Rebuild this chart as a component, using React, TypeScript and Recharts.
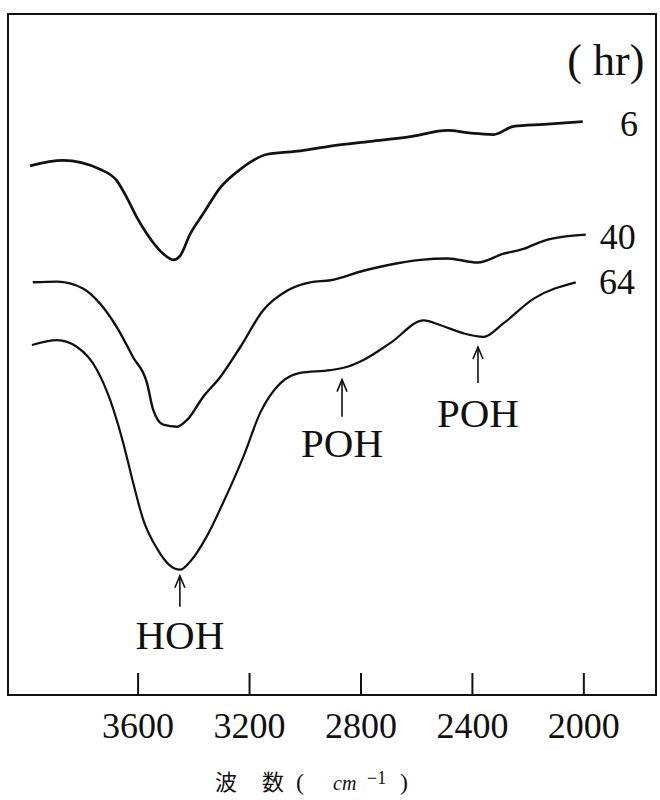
import React from 'react';
import { LineChart, Line, XAxis, YAxis, ReferenceArea, ReferenceDot } from 'recharts';

// wavenumber (cm-1) and relative transmittance
const WN_6 = [3988, 3870, 3737, 3676, 3640, 3604, 3568, 3510, 3474, 3449, 3413, 3366, 3305, 3233, 3136, 3018, 2910, 2766, 2622, 2489, 2406, 2324, 2252, 2144, 2004];
const T_6 = [77.7, 78.5, 77.2, 75.5, 73.0, 70.1, 67.7, 64.8, 63.9, 64.5, 67.7, 70.7, 74.5, 77.2, 79.4, 79.9, 80.6, 81.3, 82.0, 82.9, 82.5, 82.3, 83.5, 83.8, 84.2];

const WN_40 = [3978, 3891, 3798, 3737, 3676, 3618, 3568, 3546, 3510, 3460, 3424, 3366, 3305, 3233, 3151, 3064, 2982, 2910, 2791, 2669, 2586, 2489, 2381, 2288, 2216, 2144, 2072, 1993];
const T_40 = [60.6, 60.7, 59.7, 57.5, 54.0, 49.6, 45.8, 41.9, 39.7, 39.4, 40.4, 43.8, 46.7, 51.1, 56.5, 59.4, 60.6, 60.9, 62.3, 63.4, 63.9, 64.1, 63.5, 64.8, 65.5, 66.7, 67.3, 67.6];

const WN_64 = [3981, 3891, 3819, 3747, 3701, 3654, 3618, 3582, 3532, 3485, 3449, 3413, 3352, 3294, 3222, 3161, 3089, 3018, 2910, 2849, 2791, 2694, 2575, 2514, 2431, 2360, 2288, 2180, 2029];
const T_64 = [51.4, 52.1, 51.1, 47.7, 43.4, 37.1, 31.2, 25.8, 21.5, 19.0, 18.4, 19.6, 23.4, 28.3, 35.0, 41.5, 45.8, 47.3, 47.7, 48.2, 49.2, 51.7, 55.0, 54.3, 53.1, 52.6, 54.6, 58.2, 60.6];

const X_TICKS = [3600, 3200, 2800, 2400, 2000];
const X_DOMAIN = [1741, 4067];

const SERIES_LABELS = [
  { text: '6', wn: 1838, t: 83.9, size: 36 },
  { text: '40', wn: 1878, t: 67.3, size: 36 },
  { text: '64', wn: 1881, t: 60.6, size: 36 },
  { text: '( hr)', wn: 1921, t: 93.1, size: 44 },
];

const PEAKS = [
  { text: 'HOH', wn: 3450, t: 17.8, len: 33, gap: 75 },
  { text: 'POH', wn: 2868, t: 46.6, len: 39, gap: 79 },
  { text: 'POH', wn: 2380, t: 51.4, len: 38, gap: 82 },
];

const toPoints = (wn: number[], t: number[]) => wn.map((w, i) => ({ wn: w, t: t[i] }));

const FONT = '"Liberation Serif", "DejaVu Serif", serif';
const INK = '#111';

const AxisTick = ({ x, y, payload }: any) => (
  <g>
    <line x1={x} y1={y} x2={x} y2={y - 22} stroke={INK} strokeWidth={2} />
    <text x={x} y={y + 43} textAnchor="middle" fontFamily={FONT} fontSize={36} fill={INK}>
      {payload.value}
    </text>
  </g>
);

const AxisTitle = ({ viewBox }: any) => {
  const x0 = viewBox.x;
  const base = viewBox.y + 95;
  return (
    <text y={base} fill={INK} fontSize={22}>
      <tspan x={x0 + 207} fontFamily='"Noto Sans CJK JP"'>波</tspan>
      <tspan x={x0 + 254} fontFamily='"Noto Sans CJK JP"'>数</tspan>
      <tspan x={x0 + 288} fontFamily={FONT} fontSize={24}>(</tspan>
      <tspan x={x0 + 325} fontFamily={FONT} fontStyle="italic" fontSize={20}>cm</tspan>
      <tspan x={x0 + 359} dy={-6} fontFamily={FONT} fontSize={18}>−1</tspan>
      <tspan x={x0 + 392} dy={6} fontFamily={FONT} fontSize={24}>)</tspan>
    </text>
  );
};

const seriesText = (text: string, size: number) => (props: any) => (
  <text
    x={props.cx}
    y={props.cy}
    textAnchor="middle"
    dominantBaseline="central"
    fontFamily={FONT}
    fontSize={size}
    fill={INK}
  >
    {text}
  </text>
);

const peakMark = (text: string, len: number, gap: number) => (props: any) => {
  const { cx, cy } = props;
  return (
    <g>
      <line x1={cx} y1={cy + 2} x2={cx} y2={cy + len} stroke={INK} strokeWidth={1.6} />
      <path
        d={`M${cx - 5},${cy + 14} L${cx},${cy + 2} L${cx + 5},${cy + 14}`}
        fill="none"
        stroke={INK}
        strokeWidth={1.6}
      />
      <text x={cx} y={cy + gap} textAnchor="middle" fontFamily={FONT} fontSize={41} fill={INK}>
        {text}
      </text>
    </g>
  );
};

export default function App() {
  return (
    <div style={{ position: 'absolute', left: 0, top: 0, background: '#fff' }}>
      <LineChart width={660} height={800} margin={{ top: 14, right: 4, bottom: 75, left: 8 }}>
        <XAxis
          type="number"
          dataKey="wn"
          domain={X_DOMAIN}
          reversed
          ticks={X_TICKS}
          axisLine={false}
          tickLine={false}
          tickSize={0}
          tickMargin={0}
          height={30}
          interval={0}
          tick={<AxisTick />}
          label={{ content: <AxisTitle /> }}
          allowDataOverflow
        />
        <YAxis type="number" domain={[0, 100]} hide />
        <ReferenceArea
          x1={X_DOMAIN[0]}
          x2={X_DOMAIN[1]}
          y1={0}
          y2={100}
          fill="none"
          stroke={INK}
          strokeWidth={2}
          fillOpacity={0}
        />
        <Line data={toPoints(WN_6, T_6)} dataKey="t" type="monotone" stroke={INK} strokeWidth={2.7} dot={false} isAnimationActive={false} />
        <Line data={toPoints(WN_40, T_40)} dataKey="t" type="monotone" stroke={INK} strokeWidth={2.4} dot={false} isAnimationActive={false} />
        <Line data={toPoints(WN_64, T_64)} dataKey="t" type="monotone" stroke={INK} strokeWidth={2.2} dot={false} isAnimationActive={false} />
        {SERIES_LABELS.map((s) => (
          <ReferenceDot key={s.text} x={s.wn} y={s.t} r={0} ifOverflow="visible" shape={seriesText(s.text, s.size)} />
        ))}
        {PEAKS.map((p) => (
          <ReferenceDot key={p.wn} x={p.wn} y={p.t} r={0} ifOverflow="visible" shape={peakMark(p.text, p.len, p.gap)} />
        ))}
      </LineChart>
    </div>
  );
}
